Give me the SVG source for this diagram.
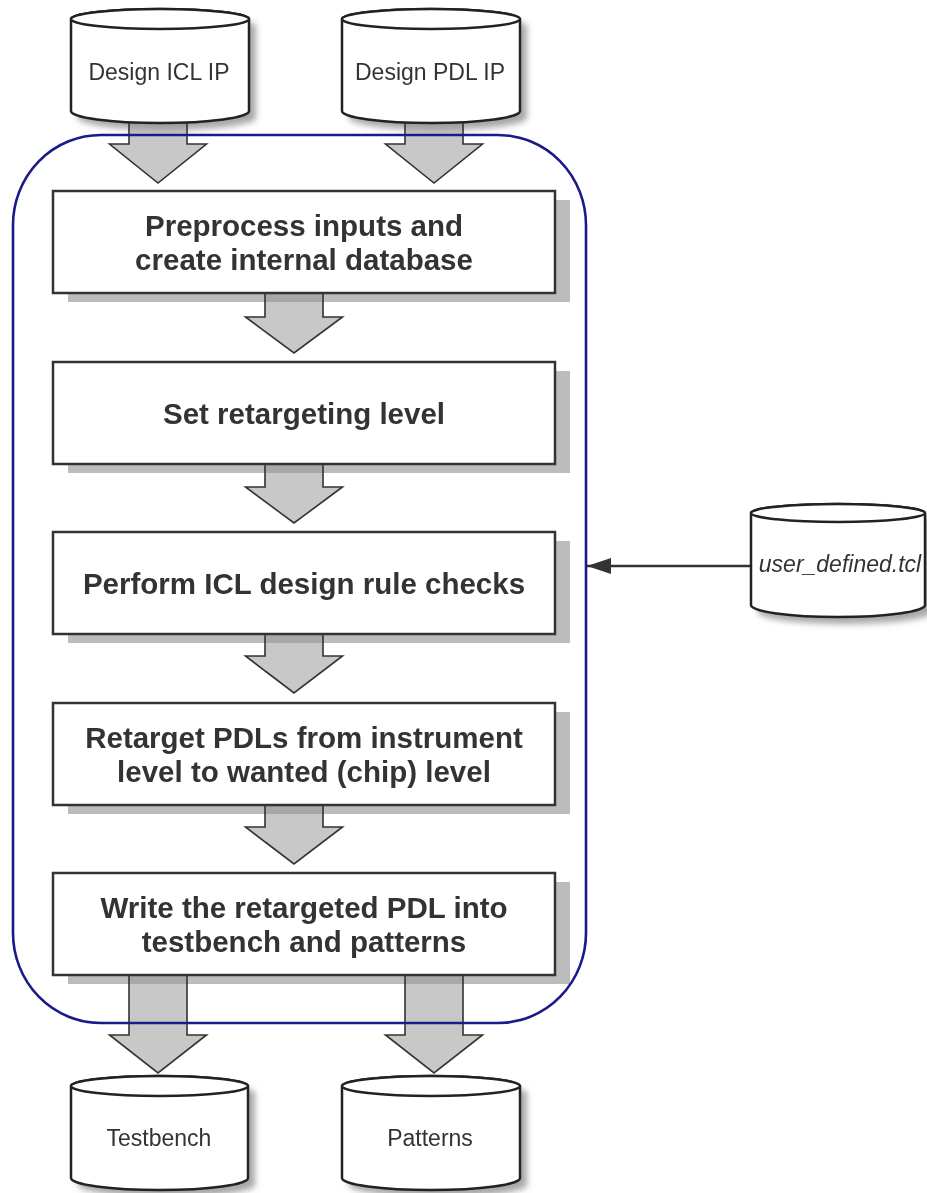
<svg xmlns="http://www.w3.org/2000/svg" width="927" height="1193" viewBox="0 0 927 1193">
  <style>
    .box { fill: #ffffff; stroke: #333333; stroke-width: 2.5; }
    .box-shadow { fill: #bcbcbc; }
    .step { font-family: "Liberation Sans", Arial, Helvetica, sans-serif; font-weight: bold; font-size: 29.5px; fill: #333333; text-anchor: middle; }
    .db { fill: #ffffff; stroke: #222222; stroke-width: 2.5; }
    .db-shadow { fill: #8a8a8a; opacity: 0.75; }
    .db-label { font-family: "Liberation Sans", Arial, Helvetica, sans-serif; font-size: 23px; fill: #333333; text-anchor: middle; }
    .flow { fill: #959595; fill-opacity: 0.52; stroke: #333333; stroke-width: 1.6; stroke-linejoin: miter; }
    .frame { fill: none; stroke: #1a1a88; stroke-width: 2.6; }
    .link { fill: none; stroke: #333333; stroke-width: 2.5; }
  </style>
  <defs>
    <filter id="soft" x="-20%" y="-20%" width="140%" height="140%">
      <feGaussianBlur stdDeviation="3"/>
    </filter>
    <marker id="head" viewBox="0 0 24 16" refX="24" refY="8" markerWidth="24" markerHeight="16" markerUnits="userSpaceOnUse" orient="auto">
      <path d="M0,0 L24,8 L0,16 Z" fill="#333333"/>
    </marker>
  </defs>

  <rect width="927" height="1193" fill="#ffffff"/>

  <!-- drop shadows of the process steps -->
  <g id="step-shadows">
    <rect class="box-shadow" x="68" y="200" width="502" height="102"/>
    <rect class="box-shadow" x="68" y="371" width="502" height="102"/>
    <rect class="box-shadow" x="68" y="541" width="502" height="102"/>
    <rect class="box-shadow" x="68" y="712" width="502" height="102"/>
    <rect class="box-shadow" x="68" y="882" width="502" height="102"/>
  </g>

  <!-- soft shadows of the data stores -->
  <g id="store-shadows" filter="url(#soft)">
    <path class="db-shadow" transform="translate(7,7)" d="M71,19 V111 A89,12 0 0 0 249,111 V19 A89,10 0 0 0 71,19 Z"/>
    <path class="db-shadow" transform="translate(7,7)" d="M342,19 V111 A89,12 0 0 0 520,111 V19 A89,10 0 0 0 342,19 Z"/>
    <path class="db-shadow" transform="translate(7,7)" d="M71,1086 V1178 A88.5,12 0 0 0 248,1178 V1086 A88.5,10 0 0 0 71,1086 Z"/>
    <path class="db-shadow" transform="translate(7,7)" d="M342,1086 V1178 A89,12 0 0 0 520,1178 V1086 A89,10 0 0 0 342,1086 Z"/>
    <path class="db-shadow" transform="translate(7,7)" d="M751,513 V605 A87,12 0 0 0 925,605 V513 A87,9 0 0 0 751,513 Z"/>
  </g>

  <!-- block arrows of the main flow -->
  <g id="connectors">
    <path class="flow" d="M129,112 V144 H109.5 L158,183 L206.5,144 H187 V112"/>
    <path class="flow" d="M405,112 V144 H385.5 L434,183 L482.5,144 H463 V112"/>
    <path class="flow" d="M265,292 V317 H245.5 L294,353 L342.5,317 H323 V292"/>
    <path class="flow" d="M265,463 V487 H245.5 L294,523 L342.5,487 H323 V463"/>
    <path class="flow" d="M265,633 V656 H245.5 L294,693 L342.5,656 H323 V633"/>
    <path class="flow" d="M265,804 V827 H245.5 L294,864 L342.5,827 H323 V804"/>
    <path class="flow" d="M129,974 V1035 H109.5 L158,1073 L206.5,1035 H187 V974"/>
    <path class="flow" d="M405,974 V1035 H385.5 L434,1073 L482.5,1035 H463 V974"/>
    <line class="link" x1="751" y1="566" x2="587" y2="566" marker-end="url(#head)"/>
  </g>

  <!-- process boundary -->
  <rect id="tool-boundary" class="frame" x="13" y="135" width="573" height="888" rx="88" ry="90"/>

  <!-- process steps -->
  <g id="step-preprocess">
    <rect class="box" x="53" y="191" width="502" height="102"/>
    <text class="step" x="304" y="236">Preprocess inputs and</text>
    <text class="step" x="304" y="270">create internal database</text>
  </g>
  <g id="step-level">
    <rect class="box" x="53" y="362" width="502" height="102"/>
    <text class="step" x="304" y="424">Set retargeting level</text>
  </g>
  <g id="step-drc">
    <rect class="box" x="53" y="532" width="502" height="102"/>
    <text class="step" x="304" y="594">Perform ICL design rule checks</text>
  </g>
  <g id="step-retarget">
    <rect class="box" x="53" y="703" width="502" height="102"/>
    <text class="step" x="304" y="748">Retarget PDLs from instrument</text>
    <text class="step" x="304" y="782">level to wanted (chip) level</text>
  </g>
  <g id="step-write">
    <rect class="box" x="53" y="873" width="502" height="102"/>
    <text class="step" x="304" y="918">Write the retargeted PDL into</text>
    <text class="step" x="304" y="952">testbench and patterns</text>
  </g>

  <!-- data stores -->
  <g id="store-icl">
    <path class="db" d="M71,19 V111 A89,12 0 0 0 249,111 V19 A89,10 0 0 0 71,19 Z"/>
    <ellipse class="db" cx="160" cy="19" rx="89" ry="10"/>
    <text class="db-label" x="159" y="80">Design ICL IP</text>
  </g>
  <g id="store-pdl">
    <path class="db" d="M342,19 V111 A89,12 0 0 0 520,111 V19 A89,10 0 0 0 342,19 Z"/>
    <ellipse class="db" cx="431" cy="19" rx="89" ry="10"/>
    <text class="db-label" x="430" y="80">Design PDL IP</text>
  </g>
  <g id="store-tcl">
    <path class="db" d="M751,513 V605 A87,12 0 0 0 925,605 V513 A87,9 0 0 0 751,513 Z"/>
    <ellipse class="db" cx="838" cy="513" rx="87" ry="9"/>
    <text class="db-label" x="840" y="572" font-style="italic">user_defined.tcl</text>
  </g>
  <g id="store-testbench">
    <path class="db" d="M71,1086 V1178 A88.5,12 0 0 0 248,1178 V1086 A88.5,10 0 0 0 71,1086 Z"/>
    <ellipse class="db" cx="159.5" cy="1086" rx="88.5" ry="10"/>
    <text class="db-label" x="159" y="1146">Testbench</text>
  </g>
  <g id="store-patterns">
    <path class="db" d="M342,1086 V1178 A89,12 0 0 0 520,1178 V1086 A89,10 0 0 0 342,1086 Z"/>
    <ellipse class="db" cx="431" cy="1086" rx="89" ry="10"/>
    <text class="db-label" x="430" y="1146">Patterns</text>
  </g>
</svg>
